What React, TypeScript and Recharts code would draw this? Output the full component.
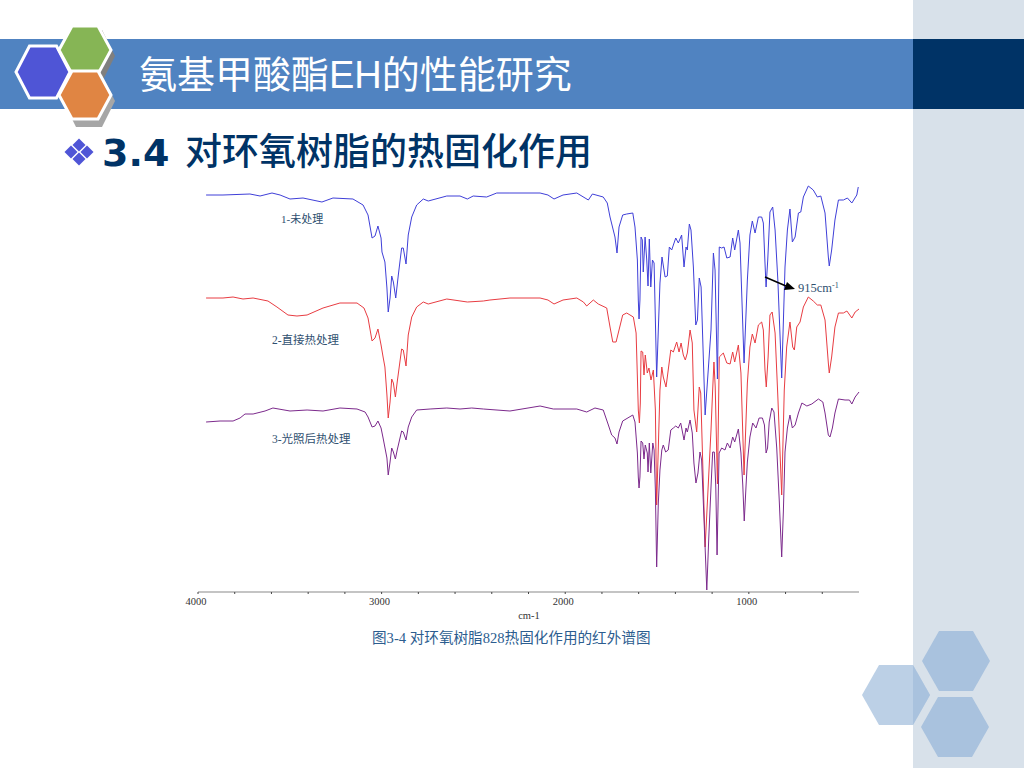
import React from "react";
import { LineChart, Line, XAxis, YAxis } from "recharts";

type P = [number, number];

const majorTicks = [4000, 3000, 2000, 1000];
const allTicks = [4000, 3800, 3600, 3400, 3200, 3000, 2800, 2600, 2400, 2200, 2000, 1800, 1600, 1400, 1200, 1000, 800, 600];

// [wavenumber, offset-transmittance]
const untreated: P[] = [
  [3956,397],[3864,397],[3717,398],[3662,396],[3597,399],[3553,397],[3499,393],[3428,394],[3325,390],[3265,394],[3156,393],[3101,387],[3074,377],[3052,354],[3036,356],[3020,366],[3003,354],[2998,340],[2982,330],[2971,304],[2964,280],[2954,294],[2945,316],[2936,310],[2923,294],[2909,317],[2891,344],[2882,344],[2867,328],[2855,357],[2836,375],[2809,387],[2773,393],[2746,391],[2645,396],[2573,396],[2533,393],[2501,396],[2428,395],[2373,399],[2301,399],[2137,399],[2094,397],[2061,393],[2012,397],[1937,399],[1892,394],[1874,392],[1852,398],[1793,395],[1771,389],[1756,375],[1729,355],[1718,339],[1707,365],[1687,377],[1665,378],[1632,379],[1620,365],[1607,332],[1602,292],[1598,273],[1593,292],[1587,355],[1580,352],[1575,320],[1565,355],[1556,332],[1549,306],[1542,353],[1534,305],[1525,332],[1516,329],[1502,215],[1484,309],[1473,335],[1456,315],[1444,316],[1433,345],[1420,342],[1411,347],[1398,354],[1384,349],[1366,357],[1353,325],[1342,345],[1335,342],[1324,368],[1315,362],[1302,325],[1289,267],[1280,272],[1270,314],[1260,305],[1238,177],[1206,262],[1193,339],[1184,322],[1171,213],[1161,345],[1148,344],[1135,345],[1120,334],[1102,335],[1088,354],[1077,342],[1057,362],[1048,349],[1026,229],[1008,312],[994,357],[981,371],[966,359],[948,375],[930,375],[921,369],[912,329],[906,305],[897,332],[885,380],[870,385],[857,362],[842,312],[821,214],[803,325],[790,362],[776,383],[763,350],[748,355],[730,379],[717,380],[703,395],[676,406],[649,402],[627,395],[608,396],[585,379],[567,335],[562,326],[549,342],[531,372],[512,392],[485,392],[463,394],[439,389],[412,397],[404,405],
];

const directHeat: P[] = [
  [3956,294],[3864,294],[3809,295],[3755,293],[3700,294],[3619,291],[3570,285],[3510,277],[3461,276],[3406,277],[3319,284],[3227,289],[3134,289],[3096,284],[3074,274],[3052,251],[3036,254],[3020,263],[3003,247],[2992,235],[2982,225],[2971,197],[2964,174],[2954,190],[2945,213],[2936,209],[2925,195],[2915,210],[2891,243],[2882,242],[2867,226],[2855,257],[2836,275],[2809,285],[2773,290],[2746,288],[2645,293],[2533,290],[2446,291],[2410,292],[2301,294],[2137,294],[2094,292],[2061,288],[2012,292],[1937,294],[1901,290],[1883,286],[1847,292],[1820,288],[1774,284],[1756,265],[1741,250],[1723,250],[1711,259],[1687,277],[1665,279],[1629,275],[1614,259],[1607,215],[1602,182],[1596,169],[1591,189],[1587,241],[1578,240],[1571,217],[1564,237],[1553,219],[1544,224],[1533,212],[1520,222],[1509,182],[1502,87],[1484,202],[1474,225],[1466,215],[1451,205],[1439,222],[1425,242],[1411,240],[1393,250],[1380,240],[1369,249],[1357,237],[1346,232],[1335,239],[1320,262],[1308,249],[1299,182],[1284,160],[1270,205],[1262,199],[1238,45],[1206,162],[1197,202],[1190,230],[1183,205],[1171,108],[1161,235],[1139,239],[1120,229],[1102,228],[1088,240],[1077,230],[1057,247],[1043,219],[1026,117],[1008,209],[994,245],[981,258],[966,249],[948,267],[930,270],[921,262],[912,222],[905,205],[895,235],[885,277],[873,280],[857,259],[842,195],[821,97],[807,202],[794,245],[776,270],[761,245],[752,242],[739,265],[721,270],[703,285],[676,295],[649,291],[627,287],[608,287],[585,272],[567,229],[562,219],[549,235],[531,265],[512,279],[485,279],[466,281],[439,274],[421,280],[400,283],
];

const uvThenHeat: P[] = [
  [3956,170],[3880,171],[3809,171],[3771,174],[3744,178],[3700,178],[3635,181],[3592,184],[3499,181],[3406,182],[3319,181],[3227,184],[3134,183],[3090,180],[3074,175],[3052,165],[3036,166],[3020,171],[3003,164],[2992,154],[2971,134],[2964,117],[2954,130],[2945,144],[2936,140],[2925,133],[2915,142],[2891,161],[2882,160],[2867,152],[2855,165],[2836,175],[2809,182],[2736,183],[2645,184],[2573,183],[2509,184],[2446,183],[2301,181],[2137,186],[2065,183],[1937,183],[1883,180],[1838,184],[1793,182],[1765,167],[1747,157],[1729,154],[1718,148],[1707,160],[1687,171],[1632,177],[1620,170],[1607,139],[1602,115],[1598,104],[1593,115],[1587,151],[1578,149],[1571,133],[1564,147],[1553,139],[1549,120],[1542,149],[1534,119],[1523,149],[1516,142],[1509,102],[1502,25],[1493,89],[1484,122],[1474,142],[1466,147],[1453,140],[1439,142],[1425,162],[1411,164],[1398,166],[1384,164],[1371,169],[1353,152],[1342,164],[1335,160],[1320,172],[1308,159],[1299,129],[1288,109],[1277,119],[1266,140],[1257,132],[1244,72],[1229,2],[1218,55],[1206,105],[1197,140],[1188,140],[1180,105],[1173,37],[1162,139],[1148,144],[1130,142],[1117,149],[1102,144],[1088,155],[1077,150],[1057,163],[1043,139],[1033,107],[1025,71],[1015,107],[1008,130],[994,155],[979,169],[961,164],[944,174],[926,174],[915,167],[906,139],[898,144],[889,170],[875,184],[863,180],[848,144],[834,90],[821,35],[812,80],[803,140],[790,164],[776,177],[763,164],[748,167],[730,179],[711,189],[684,186],[657,188],[621,193],[597,190],[585,179],[567,157],[558,155],[545,164],[531,179],[512,193],[476,192],[452,192],[439,188],[421,195],[400,200],
];

const toRows = (pts: P[]) => pts.map(([wn, t]) => ({ wn, t }));

const sans = '"Liberation Sans", "Noto Sans CJK SC", sans-serif';
const serif = '"Liberation Serif", "Noto Sans CJK SC", serif';

const hex = (cx: number, cy: number, w: number, h: number) =>
  [[cx - w, cy], [cx - w / 2, cy - h], [cx + w / 2, cy - h], [cx + w, cy], [cx + w / 2, cy + h], [cx - w / 2, cy + h]]
    .map((p) => p.join(",")).join(" ");

const diamond = (cx: number, cy: number, r: number) =>
  `${cx - r},${cy} ${cx},${cy - r} ${cx + r},${cy} ${cx},${cy + r}`;

function AxisTick(props: any) {
  const { x, y, payload } = props;
  const major = majorTicks.includes(payload.value);
  return (
    <text x={x - 2} y={y + 9} textAnchor="middle" fontSize={10.5} fontFamily={serif} fill="#333">
      {major ? payload.value : ""}
    </text>
  );
}

export default function App() {
  return (
    <div style={{ position: "absolute", left: 0, top: 0, width: 1024, height: 768, overflow: "hidden", background: "#fff" }}>
      <svg width={1024} height={768} style={{ position: "absolute", left: 0, top: 0 }}>
        <defs>
          <clipPath id="panelClip"><rect x={913} y={0} width={111} height={768} /></clipPath>
        </defs>
        <rect x={913} y={0} width={111} height={768} fill="#d8e1ea" />
        <rect x={0} y={39} width={913} height={70} fill="#5083c1" />
        <rect x={913} y={39} width={111} height={70} fill="#003366" />

        <polygon points={hex(89, 56, 26, 26)} fill="#7f7f7f" />
        <polygon points={hex(89, 101, 26, 26)} fill="#a6a6a6" />
        <polygon points={hex(43, 72, 27, 26)} fill="#4f55d6" stroke="#fff" strokeWidth={3} />
        <polygon points={hex(85, 50, 26, 24)} fill="#86b555" stroke="#fff" strokeWidth={3} />
        <polygon points={hex(85, 95, 26, 24)} fill="#e08543" stroke="#fff" strokeWidth={3} />

        <polygon points={hex(956, 661, 34, 30)} fill="#a9c2de" />
        <polygon points={hex(955, 727, 34, 30)} fill="#a9c2de" />
        <polygon points={hex(896, 695, 34, 30)} fill="#bcd0e6" />
        <polygon points={hex(896, 695, 34, 30)} fill="#a9c2de" clipPath="url(#panelClip)" />

        <text x={139} y={88} fontSize={38} fontFamily={sans} fill="#fff">氨基甲酸酯EH的性能研究</text>

        <polygon points={diamond(79, 145, 6.5)} fill="#4f55d6" />
        <polygon points={diamond(71, 152, 6.5)} fill="#4f55d6" />
        <polygon points={diamond(87, 152, 6.5)} fill="#4f55d6" />
        <polygon points={diamond(79, 159, 6.5)} fill="#4f55d6" />
        <text x={102} y={166} fontSize={38} fontWeight={700} fontFamily='"DejaVu Sans", sans-serif' fill="#003366">3.4</text>
        <text x={185} y={165} fontSize={37} fontWeight={500} fontFamily='"Noto Sans CJK SC", sans-serif' fill="#003366">对环氧树脂的热固化作用</text>
      </svg>

      <div style={{ position: "absolute", left: 0, top: 0 }}>
        <LineChart width={1024} height={768} margin={{ top: 180, right: 165, bottom: 146, left: 198 }}>
          <XAxis
            dataKey="wn"
            type="number"
            reversed
            domain={[400, 4000]}
            ticks={allTicks}
            interval={0}
            height={30}
            axisLine={{ stroke: "#c4c4c4", strokeWidth: 2 }}
            tickLine={{ stroke: "#444" }}
            tickSize={2}
            tick={<AxisTick />}
          />
          <YAxis hide type="number" domain={[0, 412]} />
          <Line data={toRows(untreated)} dataKey="t" stroke="#3f3fd8" strokeWidth={1} dot={false} isAnimationActive={false} />
          <Line data={toRows(directHeat)} dataKey="t" stroke="#e83c42" strokeWidth={1} dot={false} isAnimationActive={false} />
          <Line data={toRows(uvThenHeat)} dataKey="t" stroke="#7c2a8c" strokeWidth={1} dot={false} isAnimationActive={false} />
        </LineChart>
      </div>

      <svg width={1024} height={768} style={{ position: "absolute", left: 0, top: 0, pointerEvents: "none" }}>
        <text x={281} y={223} fontSize={11} fontFamily={serif} fill="#2f5070">1-未处理</text>
        <text x={272} y={344} fontSize={11.5} fontFamily={serif} fill="#2f5070">2-直接热处理</text>
        <text x={272} y={443} fontSize={11.5} fontFamily={serif} fill="#2f5070">3-光照后热处理</text>
        <line x1={765} y1={277} x2={786} y2={286} stroke="#000" strokeWidth={1.5} />
        <polygon points="795,289 784,290 787,282" fill="#000" />
        <text x={798} y={292} fontSize={12.5} fontFamily={serif} fill="#2f5070">915cm<tspan fontSize={8} dy={-4}>-1</tspan></text>
        <text x={529} y={619} textAnchor="middle" fontSize={10.5} fontFamily={serif} fill="#333">cm-1</text>
        <text x={372} y={643} fontSize={14.6} fontFamily={serif} fill="#2c5d8f">图3-4 对环氧树脂828热固化作用的红外谱图</text>
      </svg>
    </div>
  );
}
